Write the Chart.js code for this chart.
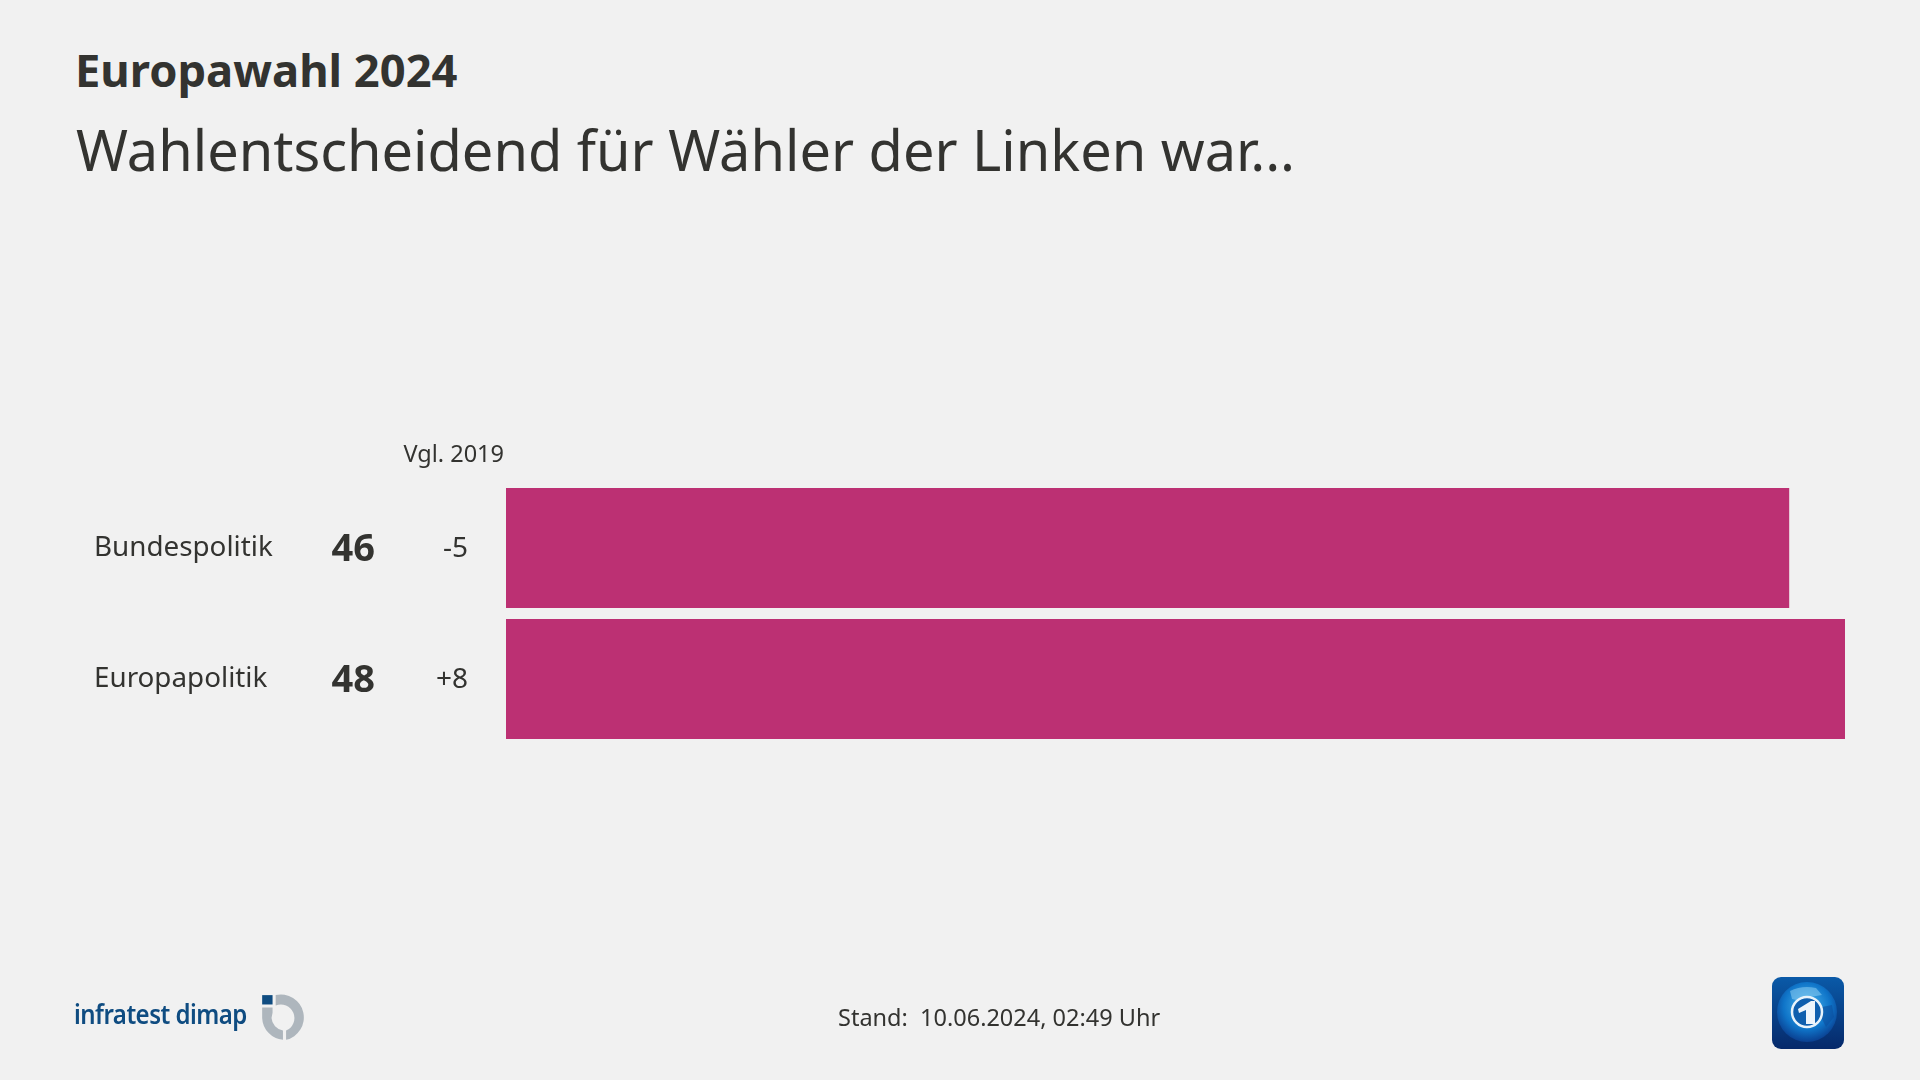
<!DOCTYPE html>
<html lang="de">
<head>
<meta charset="utf-8">
<title>Europawahl 2024</title>
<script src="https://cdn.jsdelivr.net/npm/chart.js@4"></script>
<style>
html, body { margin: 0; padding: 0; background: #f1f1f1; }
body { width: 1920px; height: 1080px; position: relative; overflow: hidden; font-family: "Noto Sans", sans-serif; color: #333330; }
#chart { position: absolute; left: 0; top: 0; }
.txt { position: absolute; white-space: nowrap; line-height: 1; }
#kicker { left: 75px; top: 47px; font-size: 45.3px; font-weight: 700; }
#title { left: 76px; top: 122px; font-size: 55.9px; }
#stand { left: 838px; top: 1005.5px; font-size: 23.5px; white-space: pre; }
#firma { left: 74px; top: 1000px; font-size: 27px; font-weight: 600; color: #0f4c81; letter-spacing: -0.6px; transform: scaleX(0.89); transform-origin: left center; }
svg { position: absolute; }
</style>
</head>
<body>
<div class="txt" id="kicker">Europawahl 2024</div>
<div class="txt" id="title">Wahlentscheidend für Wähler der Linken war...</div>
<canvas id="chart" width="1920" height="1080"></canvas>
<div class="txt" id="firma">infratest dimap</div>
<svg style="left:258px;top:992px" width="52" height="52" viewBox="0 0 50 50">
  <rect x="4" y="3" width="10" height="9" fill="#0f4c81"/>
  <path d="M17 3 A22 22 0 1 1 27 46 L27 37 A13 13 0 1 0 17 13 Z" fill="#aeb6bd"/>
  <path d="M4 15 L14 15 L14 20 L13 25 A13 13 0 0 0 24 37 L24 46 A22 22 0 0 1 4 25 Z" fill="#aeb6bd"/>
</svg>
<div class="txt" id="stand">Stand:  10.06.2024, 02:49 Uhr</div>
<svg style="left:1772px;top:977px" width="72" height="72" viewBox="0 0 72 72">
  <defs>
    <linearGradient id="bg" x1="0" y1="0" x2="0" y2="1">
      <stop offset="0" stop-color="#0a5aa8"/><stop offset="1" stop-color="#06296a"/>
    </linearGradient>
    <radialGradient id="globe" cx="0.5" cy="0.4" r="0.6">
      <stop offset="0" stop-color="#4ab8f0"/><stop offset="0.65" stop-color="#0f74c8"/><stop offset="1" stop-color="#0a3f90"/>
    </radialGradient>
  </defs>
  <rect width="72" height="72" rx="9" fill="url(#bg)"/>
  <circle cx="35" cy="35" r="30" fill="url(#globe)"/>
  <path d="M18 14 Q30 8 44 11 L50 18 L38 20 L28 24 L20 22 Z" fill="#8ccdf2" opacity="0.55"/>
  <path d="M50 30 L60 28 L62 40 L54 50 L50 42 Z" fill="#0b4f9e" opacity="0.6"/>
  <circle cx="35" cy="35" r="15" fill="#0f5fae" stroke="#e8f3fb" stroke-width="2.5"/>
  <path d="M26 32 L39 24 L43 24 L43 47 L34 47 L34 33 L27 36 Z" fill="#eef5fb"/>
</svg>
<script>
// Daten
var categories = ["Bundespolitik", "Europapolitik"];
var shares = [46, 48];
var changes = ["-5", "+8"];
var changeHeader = "Vgl. 2019";

var barColor = "#bc3073";
var textColor = "#333330";

// Anteil und Veraenderung links neben den Balken
var sideLabels = {
    id: "sideLabels",
    afterDatasetsDraw: function(chart) {
        var ctx = chart.ctx;
        var yScale = chart.scales.y;
        ctx.save();
        ctx.fillStyle = textColor;
        ctx.textBaseline = "middle";
        ctx.textAlign = "right";
        categories.forEach(function(cat, i) {
            var y = yScale.getPixelForValue(i);
            ctx.font = "700 38px 'Noto Sans'";
            ctx.fillText(shares[i], 375, y + 2);
            ctx.font = "28px 'Noto Sans'";
            ctx.fillText(changes[i], 468, y + 1);
        });
        ctx.font = "23.5px 'Noto Sans'";
        ctx.fillText(changeHeader, 504, yScale.top - 27);
        ctx.restore();
    }
};

new Chart(document.getElementById("chart"), {
    type: "bar",
    data: {
        labels: categories,
        datasets: [{
            data: shares,
            backgroundColor: barColor,
            borderWidth: 0,
            barPercentage: 120 / 131,
            categoryPercentage: 1
        }]
    },
    options: {
        indexAxis: "y",
        responsive: false,
        animation: false,
        layout: { padding: { left: 94, right: 75, top: 482.5, bottom: 335.5 } },
        plugins: {
            legend: { display: false },
            title: { display: false },
            tooltip: { enabled: false }
        },
        scales: {
            x: {
                min: 0,
                max: 48,
                display: false
            },
            y: {
                grid: { display: false },
                border: { display: false },
                afterFit: function(scale) { scale.width = 412; },
                ticks: {
                    crossAlign: "far",
                    color: textColor,
                    font: { family: "'Noto Sans'", size: 27.8 }
                }
            }
        }
    },
    plugins: [sideLabels]
});
</script>
</body>
</html>
